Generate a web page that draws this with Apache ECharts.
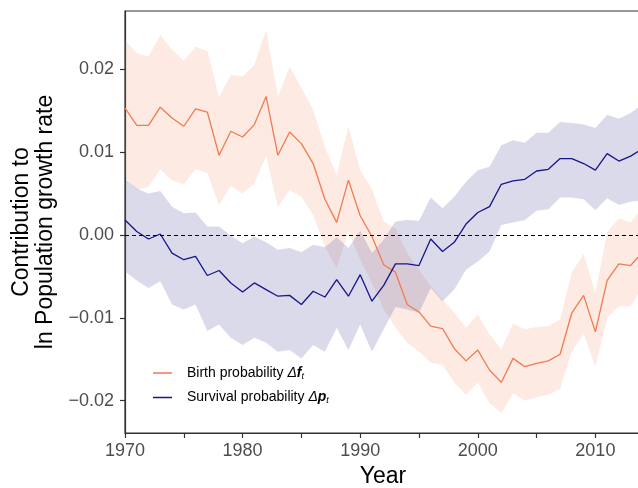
<!DOCTYPE html>
<html>
<head>
<meta charset="utf-8">
<script src="https://cdn.jsdelivr.net/npm/echarts@6/dist/echarts.min.js"></script>
<style>html,body{margin:0;padding:0;background:#fff}#c{width:638px;height:488px}</style>
</head>
<body>
<div id="c"></div>
<script>
var years = [1970,1971,1972,1973,1974,1975,1976,1977,1978,1979,1980,1981,1982,1983,1984,1985,1986,1987,1988,1989,1990,1991,1992,1993,1994,1995,1996,1997,1998,1999,2000,2001,2002,2003,2004,2005,2006,2007,2008,2009,2010,2011,2012,2013,2014];

var birth = [0.0153,0.0132,0.0132,0.0154,0.0141,0.0131,0.0152,0.0148,0.0096,0.0125,0.0118,0.0133,0.0167,0.0096,0.0124,0.0110,0.0086,0.0043,0.0015,0.0066,0.0023,-0.0002,-0.0036,-0.0045,-0.0084,-0.0093,-0.0110,-0.0113,-0.0137,-0.0152,-0.0139,-0.0163,-0.0178,-0.0149,-0.0159,-0.0155,-0.0152,-0.0144,-0.0094,-0.0073,-0.0117,-0.0055,-0.0035,-0.0037,-0.0021];
var birthUpper = [0.0235,0.0219,0.0215,0.0241,0.0223,0.0210,0.0227,0.0222,0.0166,0.0193,0.0191,0.0205,0.0247,0.0167,0.0203,0.0177,0.0151,0.0106,0.0072,0.0131,0.0078,0.0055,0.0016,0.0008,-0.0022,-0.0042,-0.0062,-0.0078,-0.0094,-0.0112,-0.0096,-0.0120,-0.0138,-0.0107,-0.0114,-0.0111,-0.0110,-0.0102,-0.0045,-0.0023,-0.0070,0.0003,0.0020,0.0015,0.0033];
var birthLower = [0.0070,0.0054,0.0058,0.0079,0.0066,0.0061,0.0079,0.0075,0.0036,0.0059,0.0050,0.0062,0.0095,0.0034,0.0054,0.0046,0.0024,-0.0014,-0.0040,0.0004,-0.0030,-0.0058,-0.0090,-0.0112,-0.0130,-0.0141,-0.0154,-0.0157,-0.0178,-0.0193,-0.0178,-0.0203,-0.0215,-0.0191,-0.0200,-0.0196,-0.0193,-0.0186,-0.0140,-0.0120,-0.0159,-0.0100,-0.0086,-0.0086,-0.0063];

var survival = [0.0018,0.0004,-0.0005,0.0001,-0.0022,-0.0030,-0.0026,-0.0049,-0.0043,-0.0058,-0.0069,-0.0058,-0.0066,-0.0074,-0.0073,-0.0084,-0.0068,-0.0075,-0.0054,-0.0074,-0.0048,-0.0080,-0.0061,-0.0035,-0.0035,-0.0037,-0.0005,-0.0020,-0.0009,0.0013,0.0027,0.0034,0.0061,0.0065,0.0067,0.0077,0.0079,0.0092,0.0092,0.0086,0.0078,0.0098,0.0089,0.0095,0.0104];
var survivalUpper = [0.0068,0.0056,0.0050,0.0053,0.0034,0.0026,0.0027,0.0010,0.0010,-0.0001,-0.0010,-0.0002,-0.0009,-0.0018,-0.0016,-0.0021,-0.0012,-0.0015,-0.0003,-0.0016,0.0005,-0.0022,-0.0006,0.0016,0.0018,0.0017,0.0045,0.0032,0.0046,0.0064,0.0078,0.0082,0.0108,0.0114,0.0111,0.0123,0.0123,0.0136,0.0135,0.0133,0.0129,0.0145,0.0140,0.0147,0.0157];
var survivalLower = [-0.0044,-0.0055,-0.0064,-0.0056,-0.0084,-0.0090,-0.0084,-0.0116,-0.0108,-0.0124,-0.0133,-0.0124,-0.0130,-0.0141,-0.0139,-0.0149,-0.0133,-0.0141,-0.0112,-0.0139,-0.0108,-0.0141,-0.0114,-0.0087,-0.0090,-0.0094,-0.0064,-0.0080,-0.0066,-0.0042,-0.0032,-0.0020,0.0012,0.0015,0.0018,0.0029,0.0031,0.0045,0.0045,0.0043,0.0030,0.0044,0.0036,0.0040,0.0042];

var xTicks = [1970,1975,1980,1985,1990,1995,2000,2005,2010];
var xLabels = [1970,1980,1990,2000,2010];
var yTicks = [-0.02,-0.01,0,0.01,0.02];

var orange = '#f27a50';
var navy = '#16168a';

function pairs(arr){ return years.map(function(y,i){ return [y, arr[i]]; }); }

function ribbon(lo, hi, fill){
  return {
    type:'custom', silent:true, clip:true,
    data:[[years[0], lo[0]]],
    renderItem:function(params, api){
      var pts = [];
      for (var i = 0; i < years.length; i++) pts.push(api.coord([years[i], hi[i]]));
      for (var j = years.length - 1; j >= 0; j--) pts.push(api.coord([years[j], lo[j]]));
      return {type:'polygon', shape:{points:pts}, style:{fill:fill}};
    }
  };
}

var chart = echarts.init(document.getElementById('c'));
chart.setOption({
  animation:false,
  backgroundColor:'#fff',
  grid:{left:125, right:-3, top:11, bottom:55, containLabel:false, outerBoundsMode:'none',
        show:true, borderColor:'#333', borderWidth:1.2, backgroundColor:'transparent'},
  xAxis:{
    type:'value', min:1970, max:2013.88,
    name:'Year', nameLocation:'middle', nameGap:32,
    nameTextStyle:{color:'#000', fontSize:23, fontFamily:'Liberation Sans'},
    axisLine:{show:true, onZero:false, lineStyle:{color:'#333', width:1.2}},
    axisTick:{show:true, length:5, customValues:xTicks, lineStyle:{color:'#333', width:1.2}},
    axisLabel:{customValues:xLabels, color:'#4d4d4d', fontSize:18, fontFamily:'Liberation Sans', margin:9, formatter:function(v){return String(v);}},
    splitLine:{show:false}
  },
  yAxis:{
    type:'value', min:-0.0239, max:0.0270,
    name:'Contribution to\nln Population growth rate', nameLocation:'middle', nameGap:62, nameRotate:90,
    nameTextStyle:{color:'#000', fontSize:23, lineHeight:24, fontFamily:'Liberation Sans'},
    axisLine:{show:true, onZero:false, lineStyle:{color:'#333', width:1.2}},
    axisTick:{show:true, length:5, customValues:yTicks, lineStyle:{color:'#333', width:1.2}},
    axisLabel:{customValues:yTicks, color:'#4d4d4d', fontSize:18, fontFamily:'Liberation Sans', margin:11,
      formatter:function(v){ return (v < -1e-9 ? '\u2212' : '') + Math.abs(v).toFixed(2); }},
    splitLine:{show:false}
  },
  legend:{
    left:148, top:361, orient:'vertical', itemGap:10, itemWidth:19, itemHeight:1.5, icon:'rect',
    data:['Birth probability','Survival probability'],
    textStyle:{fontSize:14, color:'#000', fontFamily:'Liberation Sans', padding:[0,0,0,10],
      rich:{d:{fontSize:14, fontStyle:'italic', fontFamily:'Liberation Sans'},
            b:{fontSize:14, fontWeight:'bold', fontStyle:'italic', fontFamily:'Liberation Sans'},
            s:{fontSize:9, fontStyle:'italic', verticalAlign:'bottom', padding:[6,0,0,0], fontFamily:'Liberation Sans'}}},
    formatter:function(n){
      return n === 'Birth probability' ? 'Birth probability {d|\u0394}{b|f}{s|t}' : 'Survival probability {d|\u0394}{b|p}{s|t}';
    }
  },
  series:[
    ribbon(birthLower, birthUpper, 'rgba(242,122,80,0.16)'),
    ribbon(survivalLower, survivalUpper, 'rgba(95,95,170,0.23)'),
    {name:'Birth probability', type:'line', data:pairs(birth), symbol:'none', color:orange, lineStyle:{color:orange, width:1.3}},
    {name:'Survival probability', type:'line', data:pairs(survival), symbol:'none', color:navy, lineStyle:{color:navy, width:1.3},
      markLine:{silent:true, symbol:'none', label:{show:false}, lineStyle:{color:'#000', type:[4,3], width:1}, data:[{yAxis:0}]}}
  ]
});
</script>
</body>
</html>
